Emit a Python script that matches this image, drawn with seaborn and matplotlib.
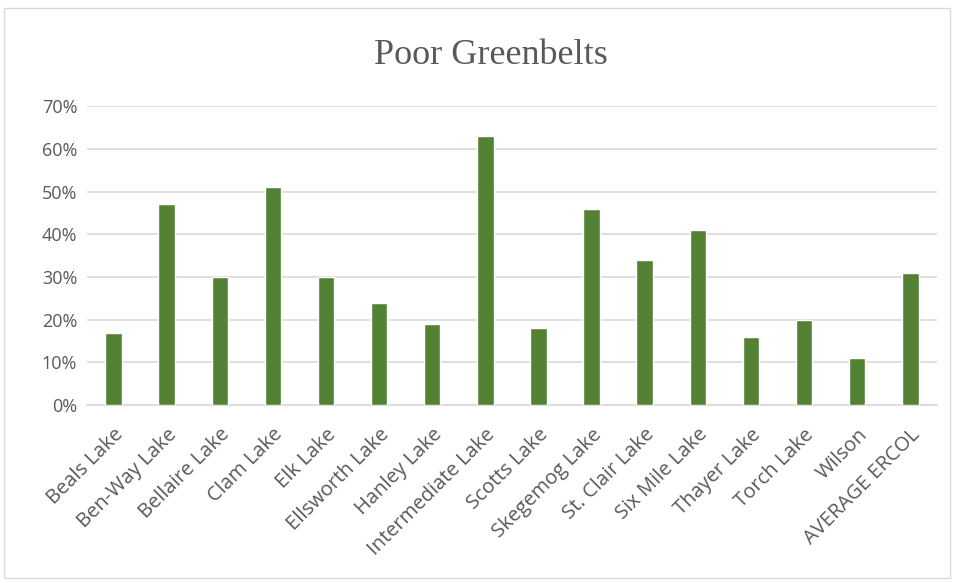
import matplotlib
matplotlib.use('Agg')
import pandas as pd
import seaborn as sns
import matplotlib.pyplot as plt
from matplotlib.patches import Rectangle
from matplotlib.ticker import PercentFormatter

lakes = ['Beals Lake', 'Ben-Way Lake', 'Bellaire Lake', 'Clam Lake', 'Elk Lake',
         'Ellsworth Lake', 'Hanley Lake', 'Intermediate Lake', 'Scotts Lake',
         'Skegemog Lake', 'St. Clair Lake', 'Six Mile Lake', 'Thayer Lake',
         'Torch Lake', 'Wilson', 'AVERAGE ERCOL']
poor_pct = [0.17, 0.47, 0.30, 0.51, 0.30, 0.24, 0.19, 0.63, 0.18,
            0.46, 0.34, 0.41, 0.16, 0.20, 0.11, 0.31]

df = pd.DataFrame({'lake': lakes, 'poor': poor_pct})

sns.set_theme(style='white')
plt.rcParams['font.family'] = ['Open Sans', 'DejaVu Sans']

fig = plt.figure(figsize=(9.56, 5.83), dpi=100)
ax = fig.add_axes([0.091, 0.305, 0.889, 0.513])

sns.barplot(data=df, x='lake', y='poor', color='#548235', width=0.31,
            saturation=1, ax=ax, zorder=3)

ax.set_ylim(0, 0.70)
ax.set_yticks([i / 10 for i in range(8)])
ax.yaxis.set_major_formatter(PercentFormatter(1.0, decimals=0))
ax.grid(axis='y', color='#d9d9d9', linewidth=1.2, zorder=0)
ax.set_xlim(-0.5, len(lakes) - 0.5)
for side in ['top', 'right', 'left']:
    ax.spines[side].set_visible(False)
ax.spines['bottom'].set_color('#d9d9d9')
ax.spines['bottom'].set_linewidth(1.2)
ax.tick_params(axis='y', length=0, labelsize=13, labelcolor='#595959', pad=7)
ax.tick_params(axis='x', length=0, labelsize=14.5, labelcolor='#595959', pad=14)
plt.setp(ax.get_xticklabels(), rotation=45, ha='right', rotation_mode='anchor')
ax.set_xlabel('')
ax.set_ylabel('')

fig.text(0.513, 0.905, 'Poor Greenbelts', ha='center', va='center',
         fontsize=26, color='#595959', family=['Liberation Serif', 'DejaVu Serif'])

# light frame around the chart area
fig.patches.append(Rectangle((0.004, 0.008), 0.99, 0.978, transform=fig.transFigure,
                             fill=False, edgecolor='#d9d9d9', linewidth=1))

fig.savefig('out.png', dpi=100)
